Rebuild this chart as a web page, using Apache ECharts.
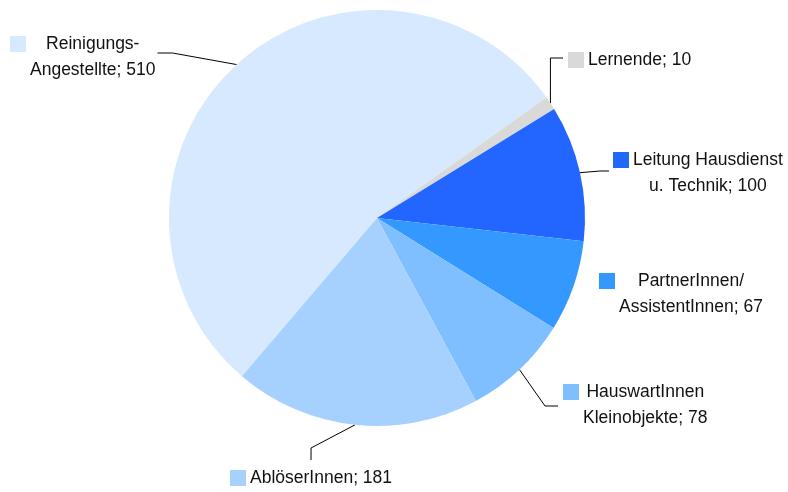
<!DOCTYPE html>
<html>
<head>
<meta charset="utf-8">
<script src="https://cdn.jsdelivr.net/npm/echarts@6/dist/echarts.min.js"></script>
<style>
html, body { margin: 0; padding: 0; background: #fff; }
#chart { width: 788px; height: 492px; }
</style>
</head>
<body>
<div id="chart"></div>
<script>
// Daten
var categories = ['Reinigungs-\nAngestellte', 'Lernende', 'Leitung Hausdienst\nu. Technik', 'PartnerInnen/\nAssistentInnen', 'HauswartInnen\nKleinobjekte', 'AblöserInnen'];
var values = [510, 10, 100, 67, 78, 181];
var colors = ['#d6e9ff', '#d9d9d9', '#2266ff', '#3399ff', '#80bfff', '#a6d1ff'];

// Layout (Pixel)
var center = [377, 218];
var radius = 208;
var startAngle = 229.5;
var labelPos = [[10, 31], [568, 47], [613, 147], [599, 268], [563, 379], [230, 465]];

var total = values.reduce(function (a, b) { return a + b; }, 0);

function edgePoint(i) {
    var cum = 0;
    for (var k = 0; k < i; k++) cum += values[k];
    var mid = (startAngle - (cum + values[i] / 2) / total * 360) * Math.PI / 180;
    return [center[0] + radius * Math.cos(mid), center[1] - radius * Math.sin(mid)];
}

var rich = {
    g: { width: 4, align: 'left' },
    p: { width: 20, align: 'left' },
    t: { align: 'center', fontSize: 17.5, color: '#111', fontFamily: 'Liberation Sans', lineHeight: 26 }
};
colors.forEach(function (c, i) {
    rich['k' + i] = { width: 16, height: 16, backgroundColor: c, align: 'left' };
});

var data = categories.map(function (name, i) {
    var item = { name: name, value: values[i], itemStyle: { color: colors[i] } };
    if (i === 3) item.labelLine = { show: false };
    return item;
});

var chart = echarts.init(document.getElementById('chart'));
chart.setOption({
    animation: false,
    backgroundColor: '#fff',
    series: [{
        type: 'pie',
        center: center,
        radius: radius,
        startAngle: startAngle,
        clockwise: true,
        avoidLabelOverlap: false,
        emphasis: { disabled: true },
        itemStyle: { borderWidth: 0 },
        label: {
            show: true,
            position: 'outside',
            lineHeight: 26,
            formatter: function (p) {
                var lines = (p.name + '; ' + p.value).split('\n');
                return lines.map(function (l, j) {
                    return (j === 0 ? '{k' + p.dataIndex + '|}{g|}' : '{p|}') + '{t|' + l + '}';
                }).join('\n');
            },
            rich: rich
        },
        labelLine: { show: true, lineStyle: { color: '#000', width: 1 } },
        labelLayout: function (params) {
            var i = params.dataIndex;
            var lx = labelPos[i][0], ly = labelPos[i][1];
            var w = params.labelRect.width, h = params.labelRect.height;
            var e = edgePoint(i);
            var end, bend;
            if (i === 0) { end = [lx + w + 2, ly + h / 2 - 4]; bend = [end[0] + 15, end[1]]; }
            else if (i === 1) { end = [lx - 5, ly + h / 2 - 2]; bend = [e[0], end[1]]; }
            else if (i === 2) { end = [lx - 4, ly + h / 2 - 2]; bend = [end[0] - 9, end[1]]; }
            else if (i === 4) { end = [lx - 5, ly + h / 2 + 1]; bend = [end[0] - 13, end[1]]; }
            else if (i === 5) { end = [lx + w / 2, ly - 5]; bend = [end[0], ly - 17]; }
            var res = { x: lx, y: ly, align: 'left', verticalAlign: 'top' };
            if (end) res.labelLinePoints = [e, bend, end];
            return res;
        },
        data: data
    }]
});
</script>
</body>
</html>
